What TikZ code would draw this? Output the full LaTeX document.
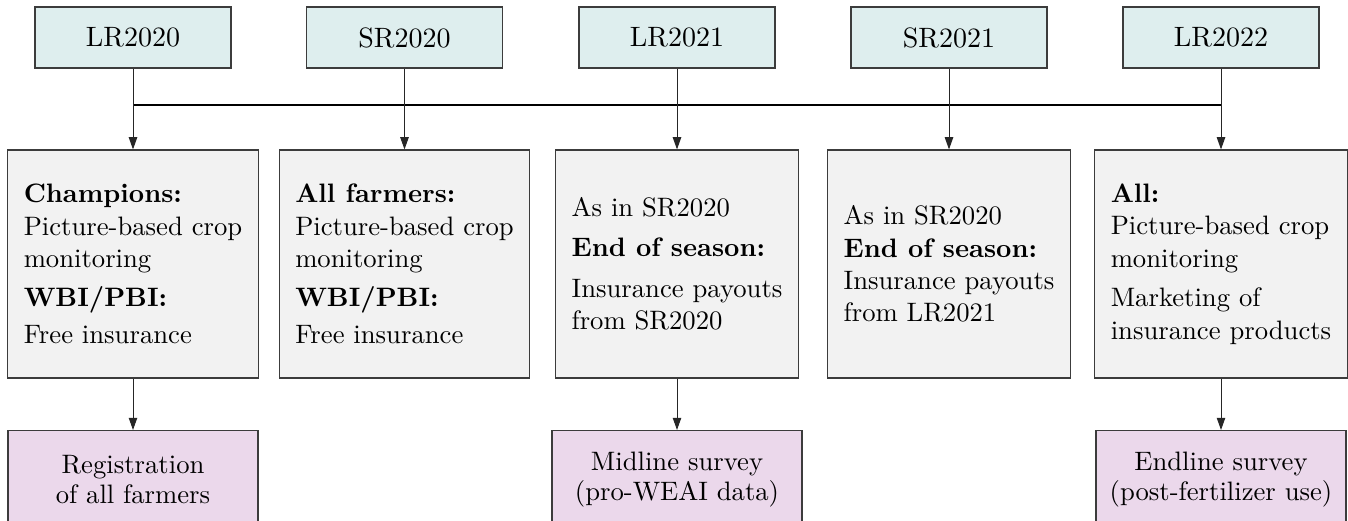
\documentclass[tikz,border=0pt]{standalone}
\usepackage{fontspec}
\setmainfont{lmroman10}[Extension=.otf, UprightFont=*-regular, BoldFont=*-bold]
\usetikzlibrary{arrows.meta}
\definecolor{topc}{RGB}{222,238,238}
\definecolor{midc}{RGB}{242,242,242}
\definecolor{botc}{RGB}{235,216,235}
\definecolor{edgec}{RGB}{60,60,60}
\begin{document}
\begin{tikzpicture}[x=0.45pt,y=-0.45pt,
 base/.style={draw=edgec, line width=0.5pt, font=\fontsize{12}{14.6}\selectfont},
 topbox/.style={base, fill=topc, minimum width=88.2pt, minimum height=27.45pt, inner sep=0pt, font=\fontsize{12.6}{15}\selectfont},
 midbox/.style={base, fill=midc, minimum height=102.6pt, inner xsep=7.2pt, inner ysep=0pt, align=left},
 botbox/.style={base, fill=botc, minimum width=112.5pt, minimum height=44pt, align=center, anchor=north, font=\fontsize{12}{13.5}\selectfont},
 arr/.style={draw=black!85, line width=0.45pt, -{Triangle[length=5.5pt,width=3.8pt]}},
 link/.style={draw=black!85, line width=0.45pt},
 bus/.style={draw=black, line width=0.9pt}]
\clip (0,0) rectangle (1348,521);
\node[topbox] (t1) at (133,37.5) {LR2020};
\node[topbox] (t2) at (404.5,37.5) {SR2020};
\node[topbox] (t3) at (677,37.5) {LR2021};
\node[topbox] (t4) at (949,37.5) {SR2021};
\node[topbox] (t5) at (1221,37.5) {LR2022};
\node[midbox] (m1) at (133,264) {\textbf{Champions:}\\ Picture-based crop\\ monitoring\\[3pt] \textbf{WBI/PBI:}\\[1.8pt] Free insurance};
\node[midbox] (m2) at (404.5,264) {\textbf{All farmers:}\\ Picture-based crop\\ monitoring\\[3pt] \textbf{WBI/PBI:}\\[1.8pt] Free insurance};
\node[midbox] (m3) at (677,264) {As in SR2020\\[3.2pt] \textbf{End of season:}\\[4pt] Insurance payouts\\ from SR2020};
\node[midbox] (m4) at (949,264) {As in SR2020\\ \textbf{End of season:}\\ Insurance payouts\\ from LR2021};
\node[midbox] (m5) at (1221,264) {\textbf{All:}\\ Picture-based crop\\ monitoring\\[3.2pt] Marketing of\\ insurance products};
\node[botbox] (b1) at (133,430) {Registration\\ of all farmers};
\node[botbox] (b3) at (677,430) {Midline survey\\ (pro-WEAI data)};
\node[botbox] (b5) at (1221,430) {Endline survey\\ (post-fertilizer use)};
\coordinate (bL) at (133,105);
\coordinate (bR) at (1221,105);
\draw[bus] (bL) -- (bR);
\foreach \i in {1,...,5}{
  \draw[link] (t\i.south) -- (t\i.south |- bL);
  \draw[arr] (t\i.south |- bL) -- (m\i.north);
}
\draw[arr] (m1.south) -- (b1.north);
\draw[arr] (m3.south) -- (b3.north);
\draw[arr] (m5.south) -- (b5.north);
\end{tikzpicture}
\end{document}
